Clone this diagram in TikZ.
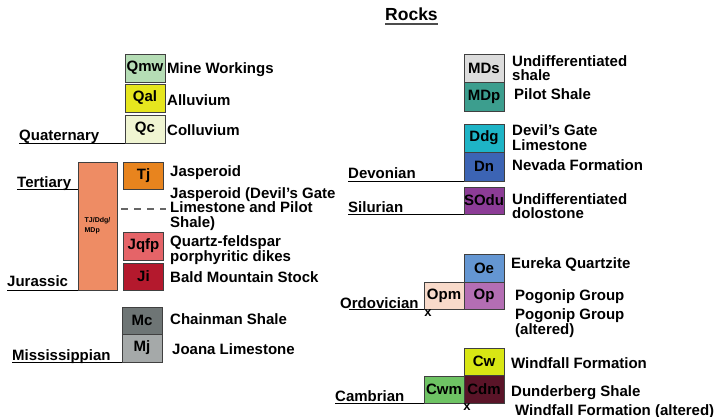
\documentclass[tikz,border=0pt]{standalone}
\usepackage{fontspec}
\setmainfont{Liberation Sans}
\usepackage{xcolor}
\usepackage{tikz}
\usetikzlibrary{positioning}

\definecolor{qmwcol}{HTML}{B5DDB5}
\definecolor{qalcol}{HTML}{E6E61E}
\definecolor{qccol}{HTML}{F0F5D2}
\definecolor{tjbigcol}{HTML}{EE8C64}
\definecolor{tjcol}{HTML}{E8841E}
\definecolor{jqfpcol}{HTML}{E56468}
\definecolor{jicol}{HTML}{B4192D}
\definecolor{mccol}{HTML}{6E7575}
\definecolor{mjcol}{HTML}{A5A9A9}
\definecolor{mdscol}{HTML}{DCDCDC}
\definecolor{mdpcol}{HTML}{3C9E8E}
\definecolor{ddgcol}{HTML}{1EB4C6}
\definecolor{dncol}{HTML}{3C64B4}
\definecolor{soducol}{HTML}{8C3C96}
\definecolor{oecol}{HTML}{6496D2}
\definecolor{opcol}{HTML}{B46EB4}
\definecolor{opmcol}{HTML}{F8DACA}
\definecolor{cwcol}{HTML}{D8E614}
\definecolor{cdmcol}{HTML}{5A1428}
\definecolor{cwmcol}{HTML}{6EC364}

\begin{document}
\begin{tikzpicture}[x=1pt, y=-1pt,
    box/.style={draw=black!75, line width=0.8pt, minimum width=40pt, minimum height=28pt,
        inner sep=0pt, outer sep=0pt, font=\bfseries\fontsize{15}{14.5}\selectfont},
    lbl/.style={anchor=base west, inner sep=0pt, align=left, font=\bfseries\fontsize{15}{14.5}\selectfont},
    era/.style={anchor=base west, inner sep=0pt, font=\bfseries\fontsize{15}{14.5}\selectfont},
    eraline/.style={line width=0.9pt, black},
    xmark/.style={inner sep=0pt, font=\bfseries\fontsize{13}{13}\selectfont}]
    \useasboundingbox (0,0) rectangle (717,417);

    % title
    \node[anchor=base west, inner sep=0pt, font=\bfseries\fontsize{17.5}{17.5}\selectfont] (title) at (385,21) {Rocks};
    \draw[line width=1.6pt, black!70] ([yshift=-3pt]title.base west) -- ([yshift=-3pt]title.base east);

    % Quaternary
    \node[box, fill=qmwcol] (qmw) at (145,68) {Qmw};
    \node[box, fill=qalcol] (qal) at (145,98) {Qal};
    \node[box, fill=qccol] (qc) at (145,129) {Qc};
    \node[lbl] (qmwl) at (167,73.3) {Mine Workings};
    \node[lbl] (qall) at (167,105.7) {Alluvium};
    \node[lbl] (qcl) at (167,135.7) {Colluvium};
    \node[era] (quat) at (19,140) {Quaternary};
    \draw[eraline] (quat.base west |- qc.south) -- (qc.south west);

    % Tertiary / Jurassic
    \node[box, fill=tjbigcol, minimum width=39pt, minimum height=128pt,
        font=\bfseries\fontsize{7}{10}\selectfont, align=left] (tjbig) at (97.5,226) {TJ/Ddg/\\MDp};
    \node[box, fill=tjcol, minimum height=27pt] (tj) at (143.5,175.5) {Tj};
    \node[box, fill=jqfpcol] (jqfp) at (143.5,246) {Jqfp};
    \node[box, fill=jicol, minimum height=27pt] (ji) at (143.5,276.5) {Ji};
    \node[lbl] (tjl) at (170,176.7) {Jasperoid};
    \node[lbl] (jasp) at (170,227.3) {Jasperoid (Devil's Gate\\Limestone and Pilot\\Shale)};
    \node[lbl] (jqfpl) at (170,261) {Quartz-feldspar\\porphyritic dikes};
    \node[lbl] (jil) at (170,282.7) {Bald Mountain Stock};
    \draw[line width=1.2pt, black!60, dash pattern=on 7pt off 6pt]
        ([xshift=4pt]tjbig.east |- jasp.west) -- ([xshift=-4pt]jasp.west);
    \node[era] (tert) at (17,187.3) {Tertiary};
    \draw[eraline] (tert.base west |- tj.south) -- (tj.south -| tjbig.west);
    \node[era] (jur) at (7,286.7) {Jurassic};
    \draw[eraline] (jur.base west |- tjbig.south) -- (tjbig.south west);

    % Mississippian
    \node[box, fill=mccol, minimum height=27pt] (mc) at (142,320.5) {Mc};
    \node[box, fill=mjcol] (mj) at (142,348) {Mj};
    \node[lbl] (mcl) at (170,324.3) {Chainman Shale};
    \node[lbl] (mjl) at (172,354.3) {Joana Limestone};
    \node[era] (miss) at (12,360) {Mississippian};
    \draw[eraline] (miss.base west |- mj.south) -- (mj.south west);

    % Devonian / Silurian
    \node[box, fill=mdscol] (mds) at (484,68) {MDs};
    \node[box, fill=mdpcol, minimum height=29pt] (mdp) at (484,96.5) {MDp};
    \node[box, fill=ddgcol] (ddg) at (484,138) {Ddg};
    \node[box, fill=dncol, minimum height=29pt] (dn) at (484,166.5) {Dn};
    \node[box, fill=soducol, minimum height=27pt] (sodu) at (484,200.5) {SOdu};
    \node[lbl] (mdsl) at (512,80.7) {Undifferentiated\\shale};
    \node[lbl] (mdpl) at (514,100) {Pilot Shale};
    \node[lbl] (ddgl) at (512,150) {Devil's Gate\\Limestone};
    \node[lbl] (dnl) at (512,170.7) {Nevada Formation};
    \node[lbl] (sodul) at (512,218.5) {Undifferentiated\\dolostone};
    \node[era] (dev) at (348,178.3) {Devonian};
    \draw[eraline] (dev.base west |- dn.south) -- (dn.south west);
    \node[era] (sil) at (348,212.3) {Silurian};
    \draw[eraline] (sil.base west |- sodu.south) -- (sodu.south west);

    % Ordovician
    \node[box, fill=oecol] (oe) at (484,268) {Oe};
    \node[box, fill=opcol, minimum height=27pt] (op) at (484,295.5) {Op};
    \node[box, fill=opmcol, minimum height=27pt] (opm) at (444,295.5) {Opm};
    \node[xmark, anchor=north] (opmx) at ([xshift=4pt]opm.south west) {x};
    \node[lbl] (oel) at (511,268.3) {Eureka Quartzite};
    \node[lbl] (opl) at (515,300) {Pogonip Group};
    \node[lbl] (opml) at (515,334) {Pogonip Group\\(altered)};
    \node[era] (ord) at (340,308.3) {Ordovician};
    \draw[eraline] ([xshift=9pt]ord.base west |- opm.south) -- (opm.south west);

    % Cambrian
    \node[box, fill=cwcol, minimum height=27pt] (cw) at (484,361.5) {Cw};
    \node[box, fill=cdmcol] (cdm) at (484,389) {Cdm};
    \node[box, fill=cwmcol, minimum height=27pt] (cwm) at (444,389.5) {Cwm};
    \node[xmark, anchor=north] (cdmx) at ([xshift=3pt]cdm.south west) {x};
    \node[lbl] (cwl) at (511,368.3) {Windfall Formation};
    \node[lbl] (cdml) at (511,396.7) {Dunderberg Shale};
    \node[lbl] (cwml) at (515,415) {Windfall Formation (altered)};
    \node[era] (camb) at (335,401.7) {Cambrian};
    \draw[eraline] (camb.base west |- cwm.south) -- (cwm.south west);
\end{tikzpicture}
\end{document}
